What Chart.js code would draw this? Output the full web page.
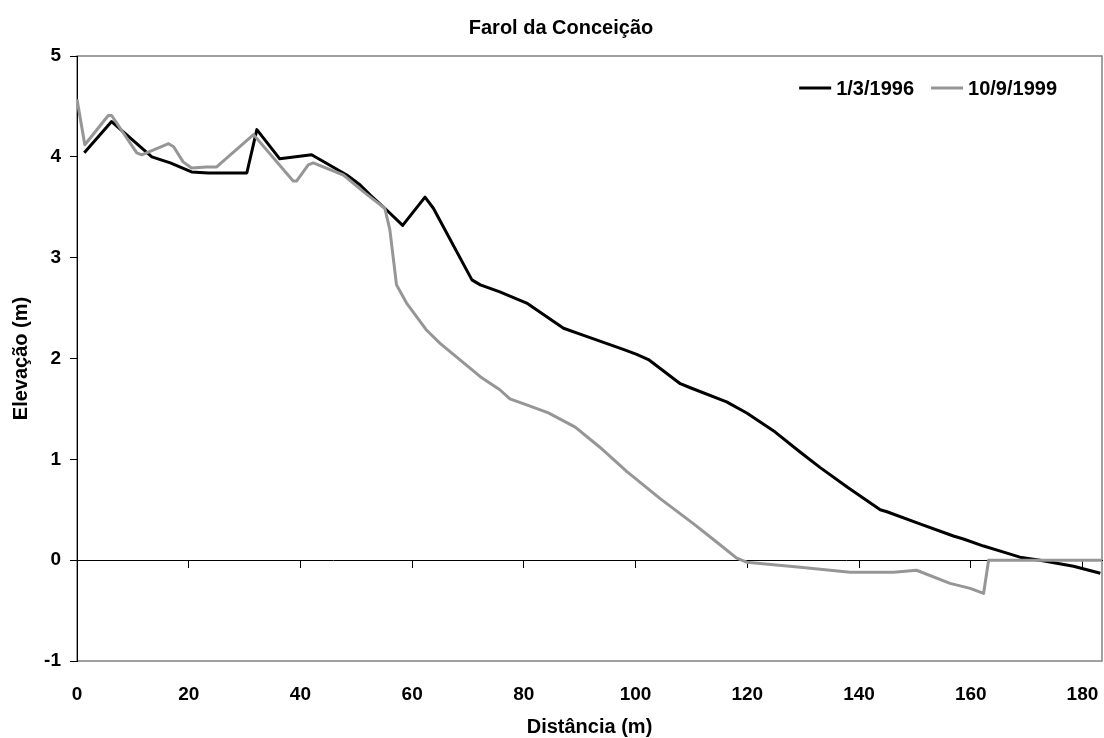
<!DOCTYPE html>
<html>
<head>
<meta charset="utf-8">
<script src="https://cdn.jsdelivr.net/npm/chart.js@4/dist/chart.umd.min.js"></script>
<style>
body{margin:0;background:#fff}
canvas{display:block}
</style>
</head>
<body>
<canvas id="profile" width="1104" height="738"></canvas>
<script>
// beach profile data
const seriesLabels = ['1/3/1996', '10/9/1999'];
const seriesColors = ['#000000', '#969696'];
const dist1996 = [1.3, 6.2, 13.4, 16.7, 20.5, 23.5, 30.4, 32.2, 36.3, 42.0, 48.3, 50.7, 52.5, 55.1, 58.3, 62.3, 63.8, 70.7, 72.2, 75.7, 80.5, 87.1, 90.7, 97.8, 100.2, 102.3, 108.0, 109.8, 116.3, 119.9, 125.0, 129.5, 133.0, 138.0, 143.8, 145.0, 150.9, 156.9, 158.7, 162.3, 165.9, 168.8, 172.4, 178.4, 183.2];
const elev1996 = [4.04, 4.35, 4.00, 3.94, 3.85, 3.84, 3.84, 4.27, 3.98, 4.02, 3.82, 3.72, 3.62, 3.49, 3.32, 3.60, 3.49, 2.78, 2.73, 2.66, 2.55, 2.30, 2.23, 2.09, 2.04, 1.99, 1.75, 1.71, 1.57, 1.46, 1.27, 1.07, 0.92, 0.72, 0.50, 0.48, 0.36, 0.24, 0.21, 0.14, 0.08, 0.03, 0.00, -0.06, -0.13];
const dist1999 = [0, 1.4, 5.6, 6.2, 10.7, 11.6, 16.4, 17.3, 19.0, 20.5, 23.2, 25.0, 31.6, 38.7, 39.3, 41.4, 42.3, 47.7, 51.6, 55.1, 56.0, 57.2, 59.0, 62.6, 65.0, 72.2, 75.7, 77.5, 80.5, 84.4, 89.2, 93.6, 98.4, 104.4, 110.4, 114.5, 118.1, 119.9, 129.5, 138.4, 146.2, 150.3, 156.3, 159.9, 162.3, 163.2, 183.5];
const elev1999 = [4.57, 4.12, 4.41, 4.41, 4.04, 4.02, 4.13, 4.10, 3.95, 3.89, 3.90, 3.90, 4.22, 3.76, 3.76, 3.92, 3.94, 3.82, 3.64, 3.49, 3.28, 2.73, 2.55, 2.28, 2.15, 1.82, 1.69, 1.60, 1.54, 1.46, 1.32, 1.12, 0.88, 0.61, 0.36, 0.18, 0.02, -0.02, -0.07, -0.12, -0.12, -0.10, -0.23, -0.28, -0.33, 0.00, 0.00];
const xTickValues = [0, 20, 40, 60, 80, 100, 120, 140, 160, 180];
const yTickValues = [-1, 0, 1, 2, 3, 4, 5];

const FONT = "'Liberation Sans', Arial, sans-serif";
const pts = (xs, ys) => xs.map((x, i) => ({x: x, y: ys[i]}));

// gray frame round the plot area, title nudge, and an Excel-like legend inside the plot
const framePlugin = {
  id: 'frame',
  afterLayout(chart){ const t = chart.titleBlock; if (t){ t.left += 10; t.right += 10; } },
  beforeDraw(chart){ const a = chart.chartArea, ctx = chart.ctx;
    ctx.save(); ctx.strokeStyle = '#808080'; ctx.lineWidth = 1.5;
    ctx.strokeRect(a.left, a.top, a.right - a.left, a.bottom - a.top); ctx.restore(); },
  afterDraw(chart){
    const a = chart.chartArea, ctx = chart.ctx, ds = chart.data.datasets;
    ctx.save(); ctx.font = 'bold 20px ' + FONT; ctx.textBaseline = 'middle';
    const lineLen = 32, gap = 5, itemGap = 17, y = a.top + 32;
    const widths = ds.map(d => lineLen + gap + ctx.measureText(d.label).width);
    let x = a.right - 45 - widths.reduce((s, w) => s + w, 0) - itemGap * (ds.length - 1);
    ds.forEach((d, i) => {
      ctx.strokeStyle = d.borderColor; ctx.lineWidth = 3;
      ctx.beginPath(); ctx.moveTo(x, y); ctx.lineTo(x + lineLen, y); ctx.stroke();
      ctx.fillStyle = '#000'; ctx.fillText(d.label, x + lineLen + gap, y + 1);
      x += widths[i] + itemGap;
    });
    ctx.restore();
  }
};

const noSidePad = (s) => { s.paddingLeft = 0; s.paddingRight = 0; };

new Chart(document.getElementById('profile'), {
  type: 'scatter',
  data: { datasets: [
    { label: seriesLabels[0], data: pts(dist1996, elev1996), showLine: true, borderColor: seriesColors[0], backgroundColor: seriesColors[0], borderWidth: 3, pointRadius: 0, borderJoinStyle: 'round', order: 2 },
    { label: seriesLabels[1], data: pts(dist1999, elev1999), showLine: true, borderColor: seriesColors[1], backgroundColor: seriesColors[1], borderWidth: 3, pointRadius: 0, borderJoinStyle: 'round', order: 1 }
  ]},
  options: {
    responsive: false, animation: false,
    layout: { padding: { left: 0, right: 2, top: 0, bottom: 0 } },
    plugins: {
      tooltip: { enabled: false },
      legend: { display: false },
      title: { display: true, text: 'Farol da Conceição', color: '#000', font: { family: FONT, size: 20, weight: 'bold' }, padding: { top: 16, bottom: 16 } }
    },
    scales: {
      x: { type: 'linear', position: 'bottom', min: 0, max: 183.5,
        afterBuildTicks: (s) => { s.ticks = xTickValues.map(v => ({value: v})); },
        afterFit: (s) => { s.height = 77; noSidePad(s); },
        grid: { display: false, drawTicks: false }, border: { display: false },
        ticks: { color: '#000', padding: 22, font: { family: FONT, size: 19, weight: 'bold' } },
        title: { display: true, text: 'Distância (m)', color: '#000', font: { family: FONT, size: 20, weight: 'bold', lineHeight: 1.0 }, padding: { top: 0, bottom: 1 } } },
      x2: { type: 'linear', axis: 'x', position: { y: 0 }, min: 0, max: 183.5,
        afterBuildTicks: (s) => { s.ticks = xTickValues.map(v => ({value: v})); },
        afterFit: noSidePad,
        grid: { drawOnChartArea: false, tickLength: 7, color: '#000' }, border: { color: '#000', width: 1 },
        ticks: { display: false } },
      y: { type: 'linear', min: -1, max: 5,
        afterBuildTicks: (s) => { s.ticks = yTickValues.map(v => ({value: v})); },
        afterFit: (s) => { s.width = 77; },
        grid: { drawOnChartArea: false, tickLength: 7, color: '#000' }, border: { color: '#000', width: 1 },
        ticks: { color: '#000', padding: 9, font: { family: FONT, size: 19, weight: 'bold' } },
        title: { display: true, text: 'Elevação (m)', color: '#000', font: { family: FONT, size: 20, weight: 'bold' }, padding: { top: 9, bottom: 0 } } }
    }
  },
  plugins: [framePlugin]
});
</script>
</body>
</html>
